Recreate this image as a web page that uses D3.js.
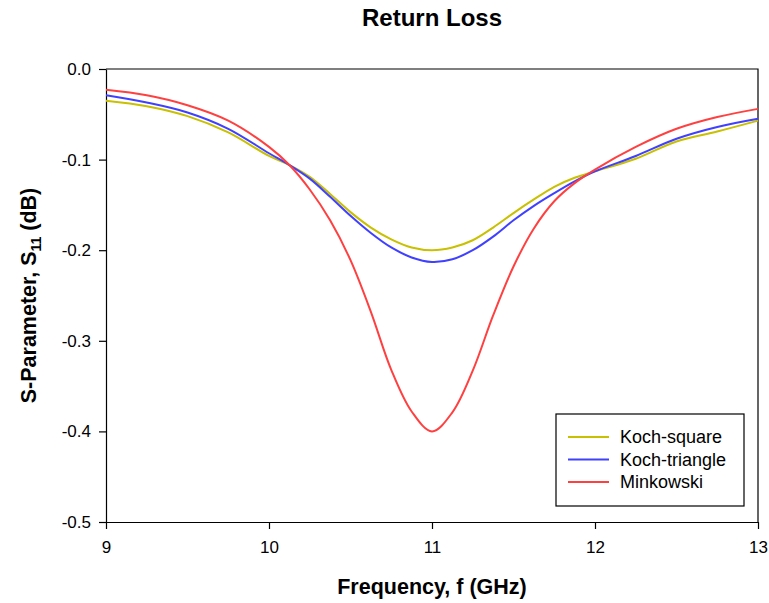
<!DOCTYPE html>
<html>
<head>
<meta charset="utf-8">
<script src="https://cdn.jsdelivr.net/npm/d3@7"></script>
<style>
  body { margin: 0; background: #fff; }
  svg { font-family: "Liberation Sans", Arial, sans-serif; }
  .axis path, .axis line { stroke: #000; stroke-width: 1.2px; }
  .axis text { font-size: 17px; fill: #000; }
</style>
</head>
<body>
<svg id="chart" width="769" height="603"></svg>
<script>
  // frequency points (GHz)
  const freqs = [9, 9.25, 9.5, 9.75, 10, 10.125, 10.25, 10.375, 10.5, 10.625, 10.75, 10.875,
    11, 11.125, 11.25, 11.375, 11.5, 11.625, 11.75, 11.875, 12, 12.25, 12.5, 12.75, 13];

  const kochSquare = [-0.035, -0.041, -0.052, -0.070, -0.096, -0.106, -0.119, -0.138, -0.158, -0.175, -0.188, -0.197,
    -0.200, -0.197, -0.189, -0.175, -0.159, -0.144, -0.130, -0.120, -0.113, -0.099, -0.080, -0.069, -0.057];

  const kochTriangle = [-0.029, -0.037, -0.048, -0.066, -0.093, -0.106, -0.121, -0.141, -0.162, -0.181, -0.197, -0.208,
    -0.213, -0.210, -0.200, -0.185, -0.167, -0.151, -0.137, -0.124, -0.113, -0.096, -0.077, -0.064, -0.055];

  const minkowski = [-0.023, -0.029, -0.040, -0.057, -0.086, -0.106, -0.133, -0.167, -0.211, -0.268, -0.332, -0.378,
    -0.400, -0.379, -0.333, -0.272, -0.218, -0.176, -0.146, -0.126, -0.111, -0.086, -0.066, -0.053, -0.044];

  const seriesNames = ['Koch-square', 'Koch-triangle', 'Minkowski'];
  const seriesColors = ['#c8c000', '#4040ff', '#ff4040'];
  const xTicks = [9, 10, 11, 12, 13];
  const yTicks = [0, -0.1, -0.2, -0.3, -0.4, -0.5];

  const svg = d3.select('#chart');
  const plotL = 106, plotR = 758, plotT = 69, plotB = 522;

  const x = d3.scaleLinear().domain([9, 13]).range([plotL, plotR]);
  const y = d3.scaleLinear().domain([-0.5, 0]).range([plotB, plotT]);

  // frame (top and right)
  svg.append('path')
    .attr('d', `M${plotL},${plotT}H${plotR}V${plotB}`)
    .attr('fill', 'none')
    .attr('stroke', '#000')
    .attr('stroke-width', 1.2);

  svg.append('g')
    .attr('class', 'axis')
    .attr('transform', `translate(0,${plotB})`)
    .call(d3.axisBottom(x).tickValues(xTicks).tickSize(7).tickPadding(12).tickSizeOuter(0).tickFormat(d3.format('d')));

  svg.append('g')
    .attr('class', 'axis')
    .attr('transform', `translate(${plotL},0)`)
    .call(d3.axisLeft(y).tickValues(yTicks).tickSize(7).tickPadding(8).tickSizeOuter(0)
      .tickFormat(d => d === 0 ? '0.0' : d.toFixed(1)));

  const line = d3.line()
    .x(d => x(d[0]))
    .y(d => y(d[1]))
    .curve(d3.curveCatmullRom.alpha(0.5));

  [kochSquare, kochTriangle, minkowski].forEach((vals, i) => {
    svg.append('path')
      .datum(d3.zip(freqs, vals))
      .attr('fill', 'none')
      .attr('stroke', seriesColors[i])
      .attr('stroke-width', 2)
      .attr('d', line);
  });

  // titles
  svg.append('text')
    .attr('x', (plotL + plotR) / 2)
    .attr('y', 26)
    .attr('text-anchor', 'middle')
    .attr('font-size', 24)
    .attr('font-weight', 'bold')
    .text('Return Loss');

  svg.append('text')
    .attr('x', (plotL + plotR) / 2)
    .attr('y', 594)
    .attr('text-anchor', 'middle')
    .attr('font-size', 21.5)
    .attr('font-weight', 'bold')
    .text('Frequency, f (GHz)');

  const yTitle = svg.append('text')
    .attr('transform', `translate(36,${(plotT + plotB) / 2}) rotate(-90)`)
    .attr('text-anchor', 'middle')
    .attr('font-size', 21.5)
    .attr('font-weight', 'bold');
  yTitle.append('tspan').text('S-Parameter, S');
  yTitle.append('tspan').attr('font-size', 14).attr('dy', 5).text('11');
  yTitle.append('tspan').attr('dy', -5).text(' (dB)');

  // legend
  const lg = svg.append('g');
  lg.append('rect')
    .attr('x', 556).attr('y', 414).attr('width', 188).attr('height', 92)
    .attr('fill', '#fff').attr('stroke', '#000').attr('stroke-width', 1.2);
  seriesNames.forEach((name, i) => {
    const ly = 437 + i * 22.5;
    lg.append('line')
      .attr('x1', 568).attr('x2', 609).attr('y1', ly).attr('y2', ly)
      .attr('stroke', seriesColors[i]).attr('stroke-width', 2);
    lg.append('text')
      .attr('x', 620).attr('y', ly + 6)
      .attr('font-size', 18)
      .text(name);
  });
</script>
</body>
</html>
